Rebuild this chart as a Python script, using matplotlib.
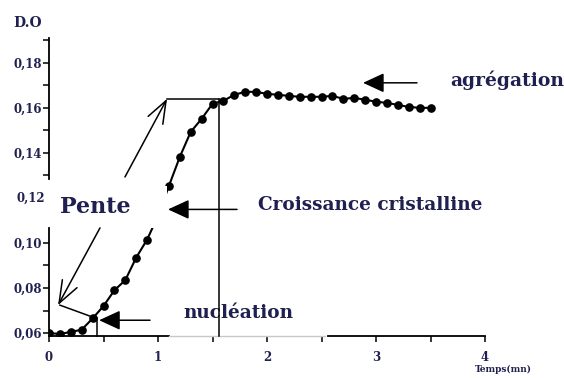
import matplotlib
matplotlib.use("Agg")
import matplotlib.pyplot as plt
from matplotlib.patches import Rectangle

# ---- data ----
time_mn = [0.0, 0.1, 0.2, 0.3, 0.4, 0.5, 0.6, 0.7, 0.8, 0.9, 1.0,
           1.1, 1.2, 1.3, 1.4, 1.5, 1.6, 1.7, 1.8, 1.9, 2.0,
           2.1, 2.2, 2.3, 2.4, 2.5, 2.6, 2.7, 2.8, 2.9, 3.0,
           3.1, 3.2, 3.3, 3.4, 3.5]
do_values = [0.0600, 0.0596, 0.0605, 0.0615, 0.0665, 0.0720, 0.0790, 0.0835, 0.0935, 0.1015, 0.1120,
             0.1253, 0.1382, 0.1493, 0.1551, 0.1618, 0.1631, 0.1658, 0.1671, 0.1671, 0.1662,
             0.1658, 0.1653, 0.1649, 0.1649, 0.1649, 0.1653, 0.1640, 0.1644, 0.1636, 0.1627,
             0.1622, 0.1613, 0.1604, 0.1600, 0.1600]
y_major = [0.06, 0.08, 0.10, 0.14, 0.16, 0.18]
y_minor = [0.07, 0.09, 0.13, 0.15, 0.17, 0.19]
x_major = [0, 1, 2, 3, 4]
x_minor = [0.5, 1.5, 2.5, 3.5]

TXT = '#1f2050'
SERIF = 'DejaVu Serif'

fig = plt.figure(figsize=(5.64, 3.78), dpi=100)
ax = fig.add_axes([49/564, 1-336/378, (485-49)/564, (336-38)/378])
ax.set_xlim(0, 4)
ax.set_ylim(0.0587, 0.191)

for s in ['top', 'right', 'bottom', 'left']:
    ax.spines[s].set_visible(False)

# axes lines (with the erased parts of the scan)
xt = ax.get_xaxis_transform()
yt = ax.get_yaxis_transform()
ax.plot([0, 1.1], [0, 0], transform=xt, color='black', lw=1.3, clip_on=False, zorder=3)
ax.plot([1.1, 2.53], [0, 0], transform=xt, color='#c8c8c8', lw=1.0, clip_on=False, zorder=3)
ax.plot([2.56, 4], [0, 0], transform=xt, color='black', lw=1.3, clip_on=False, zorder=3)
ax.plot([0, 0], [0.0587, 0.1067], transform=yt, color='black', lw=1.3, clip_on=False, zorder=3)
ax.plot([0, 0], [0.1286, 0.191], transform=yt, color='black', lw=1.3, clip_on=False, zorder=3)

ax.set_yticks(y_major)
ax.set_yticklabels([f"{v:.2f}".replace('.', ',') for v in y_major])
ax.set_yticks(y_minor, minor=True)
ax.set_xticks(x_major)
ax.set_xticklabels([str(v) for v in x_major])
ax.set_xticks(x_minor, minor=True)
ax.tick_params(axis='both', which='both', direction='out', length=4, width=1.1, colors='black')
ax.tick_params(axis='y', which='major', pad=1)
ax.tick_params(axis='x', which='major', pad=7)
for lab in ax.get_xticklabels() + ax.get_yticklabels():
    lab.set_fontfamily(SERIF)
    lab.set_fontweight('bold')
    lab.set_fontsize(8.5)
    lab.set_color(TXT)
ax.text(-0.04, 0.12, '0,12', ha='right', va='center', fontsize=8.5, fontweight='bold',
        family=SERIF, color=TXT, zorder=5, clip_on=False)

# curve
ax.plot(time_mn, do_values, color='black', lw=1.5, marker='o', ms=5.2, zorder=2)

# erased band of the scan
ax.add_patch(Rectangle((0.5, 0.1067), 0.58, 0.0188, facecolor='white', edgecolor='none',
                       zorder=2.6))

# annotations
arrow_fill = dict(arrowstyle='-|>,head_length=1.3,head_width=0.6', color='black', lw=1.1,
                  shrinkA=0, shrinkB=0, mutation_scale=10)
arrow_open = dict(arrowstyle='->,head_length=1.6,head_width=0.6', color='black', lw=1.1,
                  shrinkA=0, shrinkB=0, mutation_scale=10)

ax.annotate('', xy=(2.881, 0.1711), xytext=(3.376, 0.1711), arrowprops=arrow_fill, zorder=4)
ax.text(3.68, 0.1722, 'agrégation', ha='left', va='center', fontsize=13.5, fontweight='bold',
        family=SERIF, color=TXT, clip_on=False)

ax.annotate('', xy=(1.092, 0.1149), xytext=(1.725, 0.1149), arrowprops=arrow_fill, zorder=4)
ax.text(1.917, 0.1169, 'Croissance cristalline', ha='left', va='center', fontsize=13.3,
        fontweight='bold', family=SERIF, color=TXT)

ax.text(0.10, 0.1158, 'Pente', ha='left', va='center', fontsize=16, fontweight='bold',
        family=SERIF, color=TXT, zorder=5)
ax.annotate('', xy=(0.083, 0.0724), xytext=(0.468, 0.1067), arrowprops=arrow_open, zorder=4)
ax.plot([0.10, 0.40], [0.0724, 0.0671], color='black', lw=1.1, zorder=4)
ax.annotate('', xy=(1.083, 0.1640), xytext=(0.697, 0.1293), arrowprops=arrow_open, zorder=4)
ax.plot([1.083, 1.56], [0.1640, 0.1640], color='black', lw=1.1, zorder=4)
ax.plot([1.56, 1.56], [0.1640, 0.0587], color='black', lw=1.1, zorder=4, clip_on=False)

ax.plot([0.44, 0.44], [0.0667, 0.0585], color='black', lw=1.1, zorder=4, clip_on=False)
ax.annotate('', xy=(0.46, 0.0657), xytext=(0.927, 0.0657), arrowprops=arrow_fill, zorder=4)
ax.text(1.23, 0.0689, 'nucléation', ha='left', va='center', fontsize=13.3, fontweight='bold',
        family=SERIF, color=TXT)

fig.text(13/564, 1-23/378, 'D.O', ha='left', va='center', fontsize=10, fontweight='bold',
         family=SERIF, color=TXT)
fig.text(475/564, 1-369/378, 'Temps(mn)', ha='left', va='center', fontsize=6.5, fontweight='bold',
         family=SERIF, color=TXT)

fig.savefig('out.png', dpi=100)
